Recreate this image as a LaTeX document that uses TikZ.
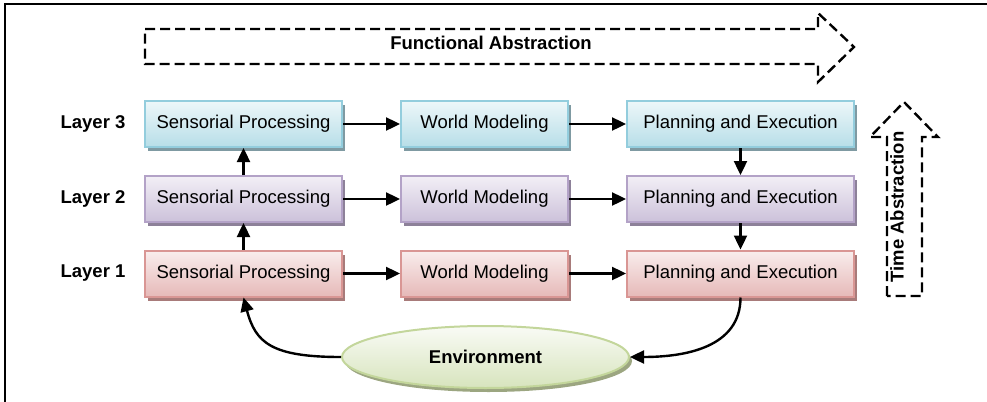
\documentclass[tikz,border=0pt]{standalone}
\usepackage{fontspec}
\setmainfont{Liberation Sans}
\usetikzlibrary{arrows.meta,shapes.geometric,shadows}

% row colours: border, fill, shadow
\definecolor{blueline}{HTML}{93CDDD}
\definecolor{bluefill}{HTML}{B7DEE8}
\definecolor{blueshade}{HTML}{7F9AA2}
\definecolor{purpleline}{HTML}{B3A2C7}
\definecolor{purplefill}{HTML}{CCC1DA}
\definecolor{purpleshade}{HTML}{8D8199}
\definecolor{redline}{HTML}{D99694}
\definecolor{redfill}{HTML}{E6B9B8}
\definecolor{redshade}{HTML}{A87B7A}
\definecolor{greenline}{HTML}{C3D69B}
\definecolor{greenfill}{HTML}{D7E4BD}
\definecolor{greenshade}{HTML}{9CA681}

\begin{document}
\begin{tikzpicture}[x=0.5pt,y=-0.5pt,
    font=\fontsize{9.25}{11}\selectfont,
    rowbox/.style={draw=#1line, line width=1pt, top color=#1fill!25, bottom color=#1fill,
        drop shadow={shadow xshift=1.5pt, shadow yshift=-2pt, fill=#1shade, opacity=1},
        minimum height=23pt, inner sep=0pt},
    flow/.style={line width=1.2pt, -{Triangle[length=7pt,width=6.5pt]}},
    abstr/.style={line width=1.2pt, dash pattern=on 5pt off 2.5pt},
    lbl/.style={font=\fontsize{9.25}{11}\selectfont\bfseries}]
    \useasboundingbox (0,0) rectangle (987,402);

    % Frame
    \draw[line width=1.4pt] (987,4) -- (5,4) -- (5,402);

    % Layers
    \foreach \n/\y/\rowcol in {1/273.5/red, 2/199/purple, 3/124/blue}{
        \node[lbl] (lay\n) at (93,\y) {Layer \n};
        \node[rowbox=\rowcol, minimum width=98.5pt]  (sp\n) at (243.5,\y) {Sensorial Processing};
        \node[rowbox=\rowcol, minimum width=83.5pt]  (wm\n) at (484.5,\y) {World Modeling};
        \node[rowbox=\rowcol, minimum width=113.5pt] (pe\n) at (740.5,\y) {Planning and Execution};
    }

    % Environment
    \node[ellipse, draw=greenline, line width=1pt, top color=greenfill!15, bottom color=greenfill,
        drop shadow={shadow xshift=1.5pt, shadow yshift=-2pt, fill=greenshade, opacity=1},
        minimum width=143.5pt, minimum height=31pt, inner sep=0pt, lbl] (env) at (485.5,357) {Environment};

    % Flow inside each layer
    \foreach \n in {1,2,3}{
        \draw[flow] (sp\n) -- (wm\n);
        \draw[flow] (wm\n) -- (pe\n);
    }

    % Between layers
    \draw[flow] (sp1) -- (sp2);
    \draw[flow] (sp2) -- (sp3);
    \draw[flow] (pe3) -- (pe2);
    \draw[flow] (pe2) -- (pe1);

    % Loop through the environment
    \draw[flow] (env.west) .. controls +(-70,0) and +(12,45) .. (sp1.south);
    \draw[flow] (pe1.south) .. controls +(0,50) and +(55,0) .. (env.east);

    % Abstraction arrows
    \draw[abstr] (145,29) -- (818,29) -- (818,13) -- (854,47) -- (818,82) -- (818,64) -- (145,64) -- cycle;
    \node[lbl] (func) at (491,43) {Functional Abstraction};

    \draw[abstr] (887,296) -- (887,137) -- (870,137) -- (904,102) -- (938,137) -- (922,137) -- (922,296) -- cycle;
    \node[lbl, rotate=90] (time) at (897,207) {Time Abstraction};
\end{tikzpicture}
\end{document}
